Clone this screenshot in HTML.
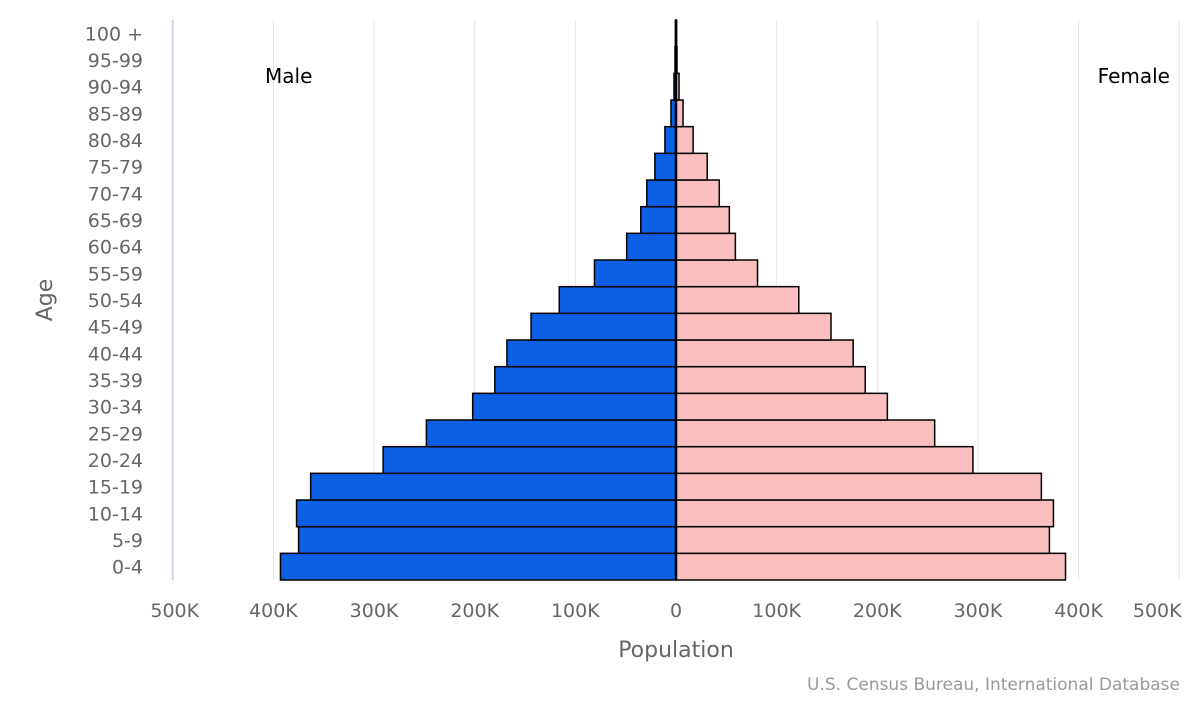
<!DOCTYPE html>
<html><head><meta charset="utf-8"><style>
body{margin:0;background:#fff;font-family:"Liberation Sans","DejaVu Sans",sans-serif}
svg text{font-family:"DejaVu Sans","Liberation Sans",sans-serif}
</style></head><body>
<svg id="c" width="1200" height="700"></svg>
<script>
const ages=["0-4","5-9","10-14","15-19","20-24","25-29","30-34","35-39","40-44","45-49","50-54","55-59","60-64","65-69","70-74","75-79","80-84","85-89","90-94","95-99","100 +"];
const male=[393,375,377,363,291,248,202,180,168,144,116,81,49,35,29,21,11,5,2,1,0.5];
const female=[387,371,375,363,295,257,210,188,176,154,122,81,59,53,43,31,17,7,3,1,0.5];
const ticks=[-500,-400,-300,-200,-100,0,100,200,300,400,500];
const tickLabels=["500K","400K","300K","200K","100K","0","100K","200K","300K","400K","500K"];
const cx=676,pxPerK=1.0065,plotTop=20,plotBottom=580;
const X=v=>cx+v*pxPerK;
const band=(plotBottom-plotTop)/ages.length;
const Y=i=>plotBottom-(i+1)*band;
const svg=document.getElementById('c');const NS='http://www.w3.org/2000/svg';
function mk(t,a,txt){const e=document.createElementNS(NS,t);for(const k in a)e.setAttribute(k,a[k]);if(txt!==undefined)e.textContent=txt;svg.appendChild(e);return e;}
ticks.forEach((t,i)=>{if(t===0)return;
const g=mk('line',{x1:X(t),x2:X(t),y1:plotTop,y2:plotBottom,stroke:t===-500?'#ccd6eb':'#e6e6e6','stroke-width':t===-500?2:1});

});
ticks.forEach((t,i)=>{let x=X(t);if(t===500)x-=22;if(t===-500)x+=2;
const l=mk('text',{x:x,y:617,'text-anchor':'middle','font-size':19,fill:'#666'},tickLabels[i]);

});
ages.forEach((a,i)=>{
const l=mk('text',{x:143,y:Y(i)+band/2+7,'text-anchor':'end','font-size':19,fill:'#666'},a);


const m=mk('rect',{x:X(-male[i]),y:Y(i),width:male[i]*pxPerK,height:band,fill:'#0d5fe3',stroke:'#000','stroke-width':1.5});


const f=mk('rect',{x:cx,y:Y(i),width:female[i]*pxPerK,height:band,fill:'#fbbfbf',stroke:'#000','stroke-width':1.5});

});
const ax=mk('line',{x1:cx,x2:cx,y1:plotTop,y2:plotBottom,stroke:'#000','stroke-width':2.5});


let t;
t=mk('text',{x:265,y:83,'font-size':20,fill:'#000'},'Male');


t=mk('text',{x:1170,y:83,'font-size':20,fill:'#000','text-anchor':'end'},'Female');


t=mk('text',{x:676,y:657,'font-size':22,fill:'#666','text-anchor':'middle'},'Population');


t=mk('text',{x:0,y:0,'font-size':22,fill:'#666','text-anchor':'middle',transform:'translate(52,300) rotate(-90)'},'Age');


t=mk('text',{x:1180,y:690,'font-size':17,fill:'#999','text-anchor':'end'},'U.S. Census Bureau, International Database');


</script>
</body></html>
